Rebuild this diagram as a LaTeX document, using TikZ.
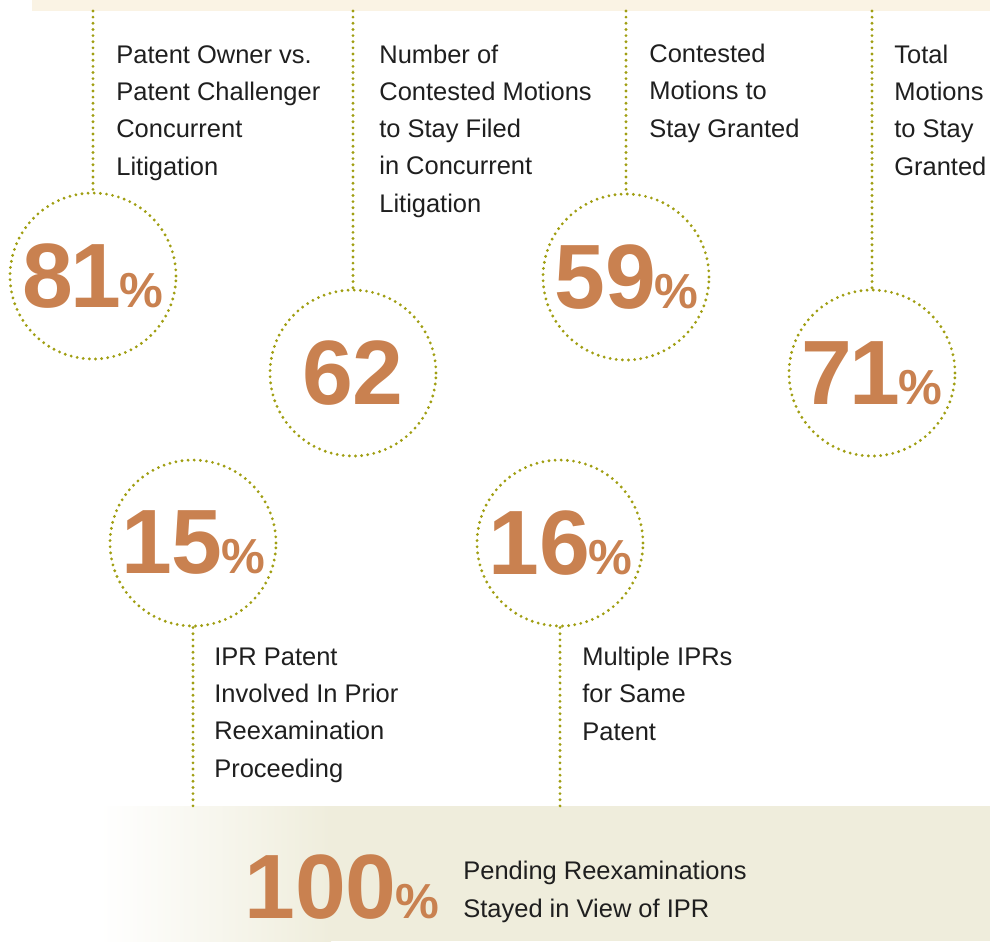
\documentclass[tikz,border=0pt]{standalone}
\usepackage{fontspec}
\setmainfont{Liberation Sans}

\definecolor{numorange}{RGB}{201,129,80}
\definecolor{dotolive}{RGB}{160,158,18}
\definecolor{topcream}{RGB}{250,243,228}
\definecolor{bandbeige}{RGB}{239,237,220}

\newcommand{\statpct}[1]{#1\kern-1pt{\fontsize{28}{28}\selectfont\%}}

\begin{document}
\begin{tikzpicture}[x=0.02cm, y=-0.02cm,
  ring/.style={circle, draw=dotolive, line width=1.8pt, dash pattern=on 0pt off 3.5pt,
    line cap=round, minimum size=3.32cm, inner sep=0pt, text=numorange,
    font=\fontsize{52}{52}\selectfont\bfseries},
  stem/.style={draw=dotolive, line width=1.8pt, dash pattern=on 0pt off 3.5pt, line cap=round},
  caption/.style={anchor=base west, align=left, inner sep=0pt, text=black!88,
    font=\fontsize{14.5}{21.2}\selectfont}]
\useasboundingbox (0,0) rectangle (990,941);

% bands
\fill[topcream] (32,0) rectangle (990,11);
\fill[left color=white, right color=bandbeige] (100,806) rectangle (331,941);
\fill[bandbeige] (330,806) rectangle (990,941);

% circles
\node[ring] (c81) at (93,276) {\statpct{8\kern-1.5pt1}};
\node[ring] (c62) at (353,373) {62};
\node[ring] (c59) at (626,277) {\statpct{59}};
\node[ring] (c71) at (872,373) {\statpct{7\kern-1.5pt1}};
\node[ring] (c15) at (193,543) {\statpct{15}};
\node[ring] (c16) at (560,543) {\statpct{16}};

% stems
\coordinate (t81) at (93,11);
\coordinate (t62) at (353,11);
\coordinate (t59) at (626,11);
\coordinate (t71) at (872,11);
\coordinate (b15) at (193,806);
\coordinate (b16) at (560,806);
\draw[stem] (t81) -- (c81);
\draw[stem] (t62) -- (c62);
\draw[stem] (t59) -- (c59);
\draw[stem] (t71) -- (c71);
\draw[stem] (c15) -- (b15);
\draw[stem] (c16) -- (b16);

% captions (placed at the baseline of their last line)
\node[caption] (d81) at (116,175) {Patent Owner vs.\\Patent Challenger\\Concurrent\\Litigation};
\node[caption] (d62) at (379,212) {Number of\\Contested Motions\\to Stay Filed\\in Concurrent\\Litigation};
\node[caption] (d59) at (649,137) {Contested\\Motions to\\Stay Granted};
\node[caption] (d71) at (894,175) {Total\\Motions\\to Stay\\Granted};
\node[caption] (d15) at (214,777) {IPR Patent\\Involved In Prior\\Reexamination\\Proceeding};
\node[caption] (d16) at (582,740) {Multiple IPRs\\for Same\\Patent};

% bottom figure
\node[anchor=base west, inner sep=0pt, text=numorange, font=\fontsize{52}{52}\selectfont\bfseries]
  (n100) at (244,918) {\statpct{100}};
\node[caption] (d100) at (463,917) {Pending Reexaminations\\Stayed in View of IPR};
\end{tikzpicture}
\end{document}
